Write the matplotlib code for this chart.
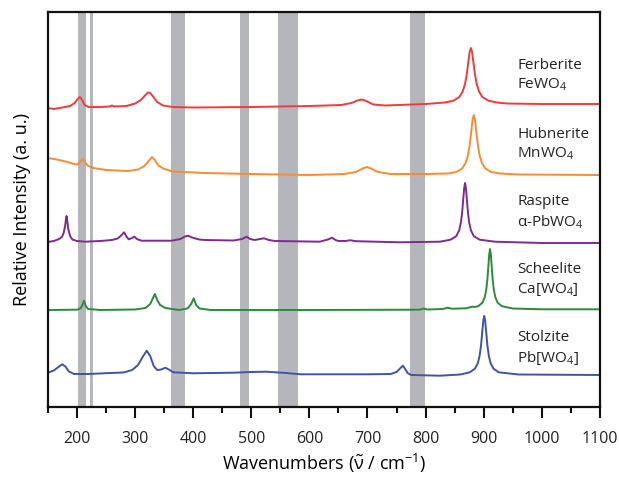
import matplotlib
matplotlib.use("Agg")
import matplotlib.pyplot as plt
from matplotlib.ticker import MultipleLocator

plt.rcParams['font.family'] = ['Open Sans', 'DejaVu Sans']
plt.rcParams['mathtext.fontset'] = 'custom'
plt.rcParams['mathtext.rm'] = 'Open Sans'
plt.rcParams['mathtext.it'] = 'Open Sans'
plt.rcParams['text.color'] = '#222222'
plt.rcParams['xtick.color'] = '#111111'
plt.rcParams['xtick.labelcolor'] = '#222222'

# grey bands (cm-1)
bands = [(202, 215), (223, 227), (362, 386), (480, 496), (546, 580), (774, 799)]

# spectra (x in cm-1, offset intensity in a.u.)
ferb_x = [150, 160, 175, 188, 196, 201, 205, 209, 213, 220, 240, 256, 260, 264, 285, 300, 310, 317,
          322, 326, 331, 338, 348, 365, 400, 500, 600, 655, 672, 683, 690, 698, 710, 730, 800,
          833, 848, 858, 864, 868, 871, 873.5, 876, 878, 880, 882.5, 885, 888, 892, 898, 908, 923,
          940, 1000, 1100]
ferb_y = [299, 298, 299.5, 301, 304, 308, 310, 307, 302, 300, 300, 300.5, 301.5, 300.5, 301, 303.5,
          307, 311.5, 314.5, 314, 310.5, 305, 301.5, 300, 299.5, 300, 301, 302, 304, 306.5, 307.5, 306,
          302.5, 301.5, 303,
          304.5, 306.3, 309.9, 315.5, 323.2, 332.9, 344.2, 355.3, 359, 355.3, 344.2, 332.9, 323.2,
          315.5, 309.9, 306.3, 304.5, 303.5, 303, 303]

hub_x = [150, 165, 180, 195, 201, 205, 209, 213, 218, 228, 250, 288, 305, 315, 322, 329, 334, 340,
         350, 365, 420, 500, 600, 660, 680, 692, 699, 706, 718, 740, 800,
         838, 853, 863, 869, 873, 876, 878.5, 881, 883, 885, 887.5, 890, 893, 897, 903, 913, 928,
         960, 1100]
hub_y = [249, 247.5, 245.5, 243, 242.5, 245, 248, 245.5, 241.5, 239, 237, 236, 237.5, 240.5, 245, 250,
         247, 241.5, 238, 235.5, 234, 233, 232, 233, 235, 238.5, 240, 238.5, 235, 233, 233,
         233.5, 235, 238.5, 244, 251.7, 262, 274.5, 287.5, 292, 287.5, 274.5, 262, 251.7, 244, 238.5,
         235, 233.5, 232.5, 232]

rasp_x = [150, 160, 168, 174, 177, 179.5, 181, 182, 183, 185, 188, 192, 200, 214, 240, 260, 270, 277,
          281, 285, 289, 295, 299, 303, 311, 363, 378, 386, 391, 398, 410, 420, 470, 484, 492, 498,
          506, 515, 522, 530, 541, 618, 632, 639, 645, 650, 662, 670, 680, 756, 825,
          843, 853, 858, 861, 863, 865, 866.5, 868, 869.5, 871, 873, 875, 878, 883, 893, 920, 1000, 1100]
rasp_y = [165, 166, 167.7, 170, 174, 181, 188, 191, 187, 178, 171, 167.5, 166, 165.3, 166, 167, 168.5,
          172, 174.7, 170.5, 167.7, 169, 170.3, 168, 166.3, 166.3, 168, 170.5, 171.3, 169.5, 167.5, 167,
          166.5, 168, 170.3, 168, 167, 168, 168.7, 167, 166, 165.3, 167.5, 169.3, 167, 166, 166, 166.8,
          165.8, 164.7, 165.3,
          167.3, 170.9, 176.8, 185, 194.5, 208.4, 219, 224, 219, 208.4, 194.5, 185, 176.8, 170.9, 167.3,
          165.3, 164, 164]

sche_x = [150, 200, 206, 209, 212, 215, 219, 240, 300, 318, 326, 330, 334, 338, 343, 352, 375, 390,
          396, 401, 405, 411, 430, 600, 790, 797, 803, 830, 838, 845, 870, 880, 885,
          891, 898, 902, 904.5, 906.5, 908, 909.5, 911, 912.5, 914, 915.5, 917.5, 920, 924, 931,
          950, 1000, 1100]
sche_y = [97, 97.3, 98.7, 101.5, 106.3, 101, 98, 97, 97.5, 99, 103, 108, 113, 107, 102, 99, 97, 98.5,
          102.5, 108.7, 102, 98.5, 97, 97, 97.3, 98.5, 97.5, 98, 99.3, 98.3, 98.7, 100.3, 100,
          100.9, 104.4, 110, 117.4, 128, 139.5, 152, 158, 152, 139.5, 128, 117.4, 110, 104.4, 100.9,
          98.5, 97.7, 97.7]

stol_x = [150, 160, 168, 174.5, 180, 186, 195, 220, 250, 280, 295, 305, 313, 320, 326, 332, 338, 345,
          352, 358, 366, 400, 470, 500, 526, 560, 584, 700, 740, 750, 756, 761, 765, 769, 775, 825,
          860, 876, 885, 890, 893, 895.5, 898, 899.5, 901, 902.5, 904, 906.5, 909, 912, 917, 926,
          960, 1100]
stol_y = [34.3, 36.5, 40, 42.7, 40.5, 35.5, 33, 33, 33.8, 34.5, 37, 42, 50, 56.3, 51, 41, 37, 37.5,
          39.3, 37.5, 34.7, 33.7, 34.3, 35, 35.3, 34, 32.7, 32.7, 33, 35, 38.5, 41.3, 38, 34, 32, 31.3,
          32.5, 34.7, 38.3, 43.8, 51, 61.5, 77.5, 86.9, 91, 86.9, 77.5, 61.5, 51, 43.8, 38.3, 34.7,
          32.5, 32]

spectra = [
    (ferb_x, ferb_y, '#ee3b3b', 'Ferberite', 'FeWO$_4$', 342, 322),
    (hub_x, hub_y, '#f68c35', 'Hubnerite', 'MnWO$_4$', 273, 253),
    (rasp_x, rasp_y, '#7d2b8e', 'Raspite', '\u03b1-PbWO$_4$', 205, 185),
    (sche_x, sche_y, '#2b8b3d', 'Scheelite', 'Ca[WO$_4$]', 137, 117),
    (stol_x, stol_y, '#3f53a7', 'Stolzite', 'Pb[WO$_4$]', 69, 49),
]

fig = plt.figure(figsize=(6.19, 4.90), dpi=100)
ax = fig.add_axes([0.0775, 0.1694, 0.8915, 0.8061])

for lo, hi in bands:
    ax.axvspan(lo, hi, color='#b5b6bb', lw=0, zorder=0)

for x, y, c, name, formula, ty1, ty2 in spectra:
    ax.plot(x, y, color=c, lw=1.4, zorder=2, solid_joinstyle='round')
    ax.text(958, ty1, name, fontsize=11, va='center', ha='left')
    ax.text(958, ty2, formula, fontsize=11, va='center', ha='left')

ax.set_xlim(150, 1100)
ax.set_ylim(0, 395)
ax.xaxis.set_minor_locator(MultipleLocator(50))
ax.set_xticks(range(200, 1101, 100))
ax.set_yticks([])
ax.tick_params(axis='x', which='major', direction='out', length=8, width=1.5, labelsize=11.5, pad=9)
ax.tick_params(axis='x', which='minor', direction='out', length=4.5, width=1.5)
for s in ax.spines.values():
    s.set_linewidth(1.6)
    s.set_color('#111111')

ax.set_xlabel('Wavenumbers ($\\tilde{\\nu}$ / cm$^{-1}$)', fontsize=13, labelpad=4)
ax.set_ylabel('Relative Intensity (a. u.)', fontsize=13, labelpad=12)

fig.savefig('out.png', dpi=100)
